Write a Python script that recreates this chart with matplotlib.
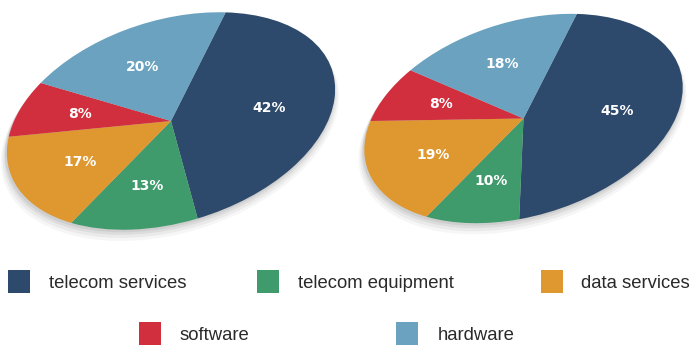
import matplotlib
matplotlib.use("Agg")
import matplotlib.pyplot as plt
from matplotlib.transforms import Affine2D
from matplotlib.patches import Rectangle, Ellipse

# Market shares by segment, two periods
categories = ["telecom services", "telecom equipment", "data services", "software", "hardware"]
shares_left = [42, 13, 17, 8, 20]
shares_right = [45, 10, 19, 8, 18]
colors = ["#2d496b", "#3f9a6c", "#de982f", "#d22f3e", "#6aa2bf"]

W, H = 693, 347
fig = plt.figure(figsize=(W / 100, H / 100), dpi=100)
ax = fig.add_axes([0, 0, 1, 1])


def tilted(cx, cy, a, b, tilt):
    return Affine2D().scale(a, b).rotate_deg(tilt).translate(cx, cy)


def draw_pie(values, cx, cy, a, b, tilt):
    # soft drop shadow under the disc
    for dy, grow, alpha in [(8, 1.03, 0.05), (6, 1.02, 0.07), (4, 1.01, 0.09), (2, 1.005, 0.1)]:
        sh = Ellipse((0, 0), 2, 2, facecolor="#555555", edgecolor="none", alpha=alpha,
                     transform=tilted(cx - 1, cy - dy, a * grow, b * grow, tilt) + ax.transData)
        ax.add_patch(sh)
    tr = tilted(cx, cy, a, b, tilt) + ax.transData
    wedges, texts, autotexts = ax.pie(
        values, colors=colors, startangle=60, counterclock=False,
        autopct=lambda p: f"{p:.0f}%", pctdistance=0.6,
        textprops=dict(color="white", fontsize=10, fontweight="bold"),
        wedgeprops=dict(linewidth=0),
    )
    for w in wedges:
        w.set_transform(tr)
    for t in list(texts) + list(autotexts):
        t.set_transform(tr)


draw_pie(shares_left, 171, 226, 169, 101, 17.3)
draw_pie(shares_right, 523.5, 228.5, 164, 97, 17.3)

# legend: three entries on the first row, two on the second
legend_rows_y = [64, 64, 64, 12, 12]
legend_box_x = [8, 257, 541, 139, 396]
legend_text_x = [49, 298, 581, 180, 438]
for name, col, bx, tx, ly in zip(categories, colors, legend_box_x, legend_text_x, legend_rows_y):
    ax.add_patch(Rectangle((bx, ly - 10), 22, 23, facecolor=col, edgecolor="none"))
    ax.text(tx, ly, name, ha="left", va="center", fontsize=13.3, color="#2a2a2a",
            family=["Liberation Sans", "DejaVu Sans"])

ax.set_xlim(0, W)
ax.set_ylim(0, H)
ax.set_aspect("auto")
ax.axis("off")
fig.savefig("out.png", dpi=100, facecolor="white")
